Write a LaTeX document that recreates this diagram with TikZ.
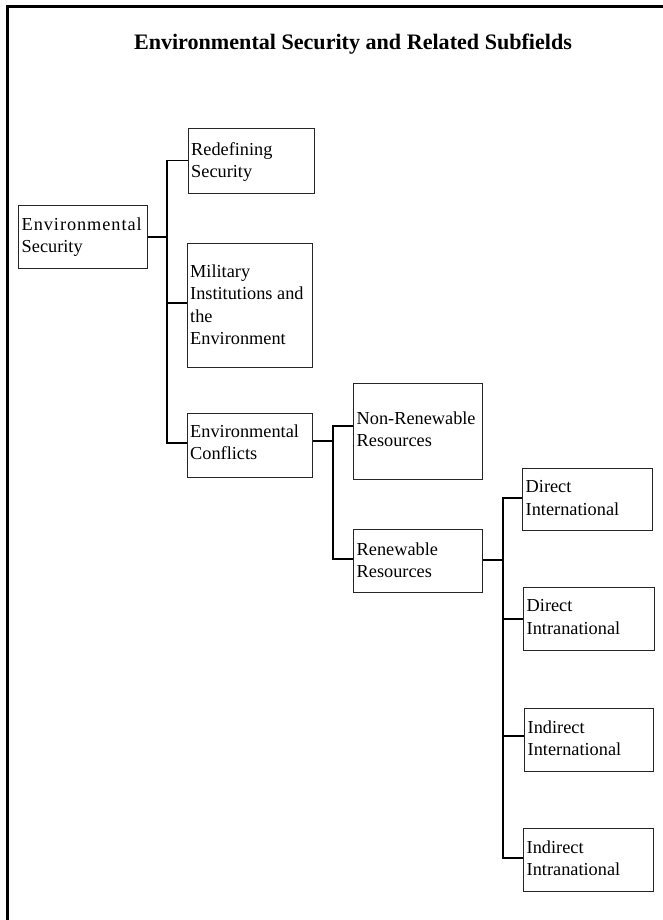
\documentclass[tikz,border=0pt]{standalone}
\usepackage{fontspec}
\setmainfont{Liberation Serif}
\usetikzlibrary{calc}
\begin{document}
\begin{tikzpicture}[x=1pt,y=-1pt,
  box/.style={draw=black!85, line width=1.2pt, inner sep=0, anchor=north west},
  lbl/.style={anchor=north west, inner sep=0, align=left, font=\fontsize{18.3}{22.6}\selectfont},
  conn/.style={draw, line width=1.8pt},
  frame/.style={line width=3pt}]
\useasboundingbox (0,0) rectangle (663,920);
\draw[frame] (7.5,920) -- (7.5,6.5) -- (663,6.5);
\node[font=\bfseries\fontsize{22.1}{26}\selectfont, anchor=base] (title) at (353,50) {Environmental Security and Related Subfields};
% boxes
\node[box, minimum width=129pt, minimum height=63pt] (es) at (18,205) {};
\node[box, minimum width=126pt, minimum height=65pt] (rs) at (188,128) {};
\node[box, minimum width=125pt, minimum height=124pt] (mil) at (187,243) {};
\node[box, minimum width=125pt, minimum height=64pt] (ec) at (187,413) {};
\node[box, minimum width=129pt, minimum height=96pt] (nr) at (353,383) {};
\node[box, minimum width=129pt, minimum height=63pt] (rr) at (353,529) {};
\node[box, minimum width=130pt, minimum height=62pt] (di) at (522,468) {};
\node[box, minimum width=131pt, minimum height=63pt] (dn) at (523,587) {};
\node[box, minimum width=129pt, minimum height=63pt] (ii) at (524,708) {};
\node[box, minimum width=130pt, minimum height=63pt] (in) at (523,828) {};
% labels
\node[lbl] (es-t) at ($(es.north west)+(3.5,12.2)$) {\addfontfeature{LetterSpace=5.1}Environmental\\Security};
\node[lbl] (rs-t) at ($(rs.north west)+(3,14.2)$) {Redefining\\Security};
\node[lbl] (mil-t) at ($(mil.north west)+(3,21.2)$) {Military\\Institutions and\\the\\Environment};
\node[lbl] (ec-t) at ($(ec.north west)+(3,11.2)$) {Environmental\\Conflicts};
\node[lbl] (nr-t) at ($(nr.north west)+(3.5,28.2)$) {Non-Renewable\\Resources};
\node[lbl] (rr-t) at ($(rr.north west)+(3.5,13.2)$) {Renewable\\Resources};
\node[lbl] (di-t) at ($(di.north west)+(3.5,12.2)$) {Direct\\International};
\node[lbl] (dn-t) at ($(dn.north west)+(3.5,12.2)$) {Direct\\Intranational};
\node[lbl] (ii-t) at ($(ii.north west)+(3.5,12.2)$) {Indirect\\International};
\node[lbl] (in-t) at ($(in.north west)+(3.5,12.2)$) {Indirect\\Intranational};
% connectors
\coordinate (t1) at ($(es.east)+(19,0)$);
\draw[conn] (es.east) -- (t1);
\draw[conn] ([yshift=0.5pt]rs.west) -| (t1) |- ([yshift=3pt]ec.west);
\draw[conn] (t1) |- ([yshift=3pt]mil.west);
\coordinate (t2) at ($([yshift=5pt]ec.east)+(20,0)$);
\draw[conn] ([yshift=5pt]ec.east) -- (t2);
\draw[conn] ([yshift=6pt]nr.west) -| (t2) |- ([yshift=2.5pt]rr.west);
\coordinate (t3) at ($([yshift=1.5pt]rr.east)+(20,0)$);
\draw[conn] ([yshift=1.5pt]rr.east) -- (t3);
\draw[conn] ([yshift=2pt]di.west) -| (t3) |- ([yshift=2.5pt]in.west);
\draw[conn] (t3) |- ([yshift=0.5pt]dn.west);
\draw[conn] (t3) |- ([yshift=4.5pt]ii.west);
\end{tikzpicture}
\end{document}
